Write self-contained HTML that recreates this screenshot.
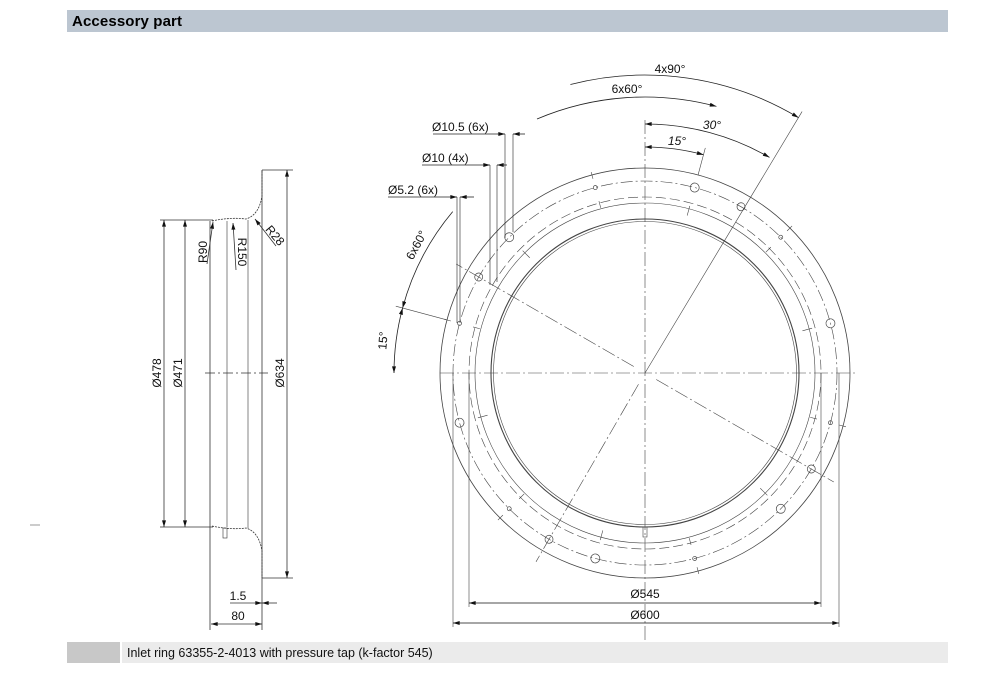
<!DOCTYPE html>
<html><head><meta charset="utf-8"><style>
body{margin:0;background:#fff;width:1000px;height:674px;overflow:hidden;font-family:"Liberation Sans",sans-serif}
svg{position:absolute;left:0;top:0}
text{font-family:"Liberation Sans",sans-serif;font-size:12px;fill:#111}
</style></head><body>
<svg width="1000" height="674" viewBox="0 0 1000 674">
<defs>
<marker id="a" viewBox="0 0 10 6" refX="10" refY="3" markerWidth="10" markerHeight="4" orient="auto-start-reverse" markerUnits="userSpaceOnUse"><path d="M0,0 L10,3 L0,6z" fill="#111"/></marker>
</defs>
<rect x="67" y="10" width="881" height="22" fill="#bcc6d1"/>
<text x="72" y="26" style="font-size:15px;font-weight:bold;fill:#000" textLength="110">Accessory part</text>
<rect x="67" y="642" width="53" height="21" fill="#c8c8c8"/>
<rect x="122" y="642" width="826" height="21" fill="#ebebeb"/>
<text x="127" y="657" style="font-size:12.5px">Inlet ring 63355-2-4013 with pressure tap (k-factor 545)</text>
<line x1="30" y1="525" x2="40" y2="525" stroke="#999"/>

<g fill="none" stroke="#333" stroke-width="0.8">
<line x1="210" y1="221" x2="210" y2="630"/>
<line x1="227" y1="221" x2="227" y2="527" stroke-width="0.6"/>
<line x1="248" y1="220" x2="248" y2="528" stroke-width="0.6"/>
<line x1="262" y1="170" x2="262" y2="630"/>
<path d="M212,221 Q230,217 246,219 Q259,215 262,196 L262,170" stroke-dasharray="2 1"/>
<path d="M212,526 Q230,530 246,528 Q259,532 262,551 L262,578" stroke-dasharray="2 1"/>
<line x1="205" y1="373" x2="268" y2="373" stroke-dasharray="10 3 2 3"/>
<line x1="160" y1="220" x2="213" y2="220"/><line x1="160" y1="527" x2="213" y2="527"/>
<line x1="262" y1="170" x2="293" y2="170"/><line x1="262" y1="578" x2="293" y2="578"/>
<line x1="164" y1="220" x2="164" y2="527" marker-start="url(#a)" marker-end="url(#a)"/>
<line x1="185" y1="220" x2="185" y2="527" marker-start="url(#a)" marker-end="url(#a)"/>
<line x1="287" y1="170" x2="287" y2="578" marker-start="url(#a)" marker-end="url(#a)"/>
<line x1="207" y1="264" x2="213" y2="222" marker-end="url(#a)"/>
<line x1="236" y1="270" x2="233" y2="223" marker-end="url(#a)"/>
<line x1="276" y1="246" x2="255" y2="219" marker-end="url(#a)"/>
<line x1="230" y1="603" x2="262" y2="603" marker-end="url(#a)"/>
<line x1="277" y1="603" x2="262" y2="603" marker-end="url(#a)"/>
<line x1="211" y1="624" x2="262" y2="624" marker-start="url(#a)" marker-end="url(#a)"/>
<rect x="223" y="528" width="4" height="10" stroke-width="0.6"/>
</g>
<text transform="translate(161,373) rotate(-90)" text-anchor="middle">Ø478</text>
<text transform="translate(182,373) rotate(-90)" text-anchor="middle">Ø471</text>
<text transform="translate(284,373) rotate(-90)" text-anchor="middle">Ø634</text>
<text transform="translate(207,252) rotate(-90)" text-anchor="middle">R90</text>
<text transform="translate(238,252) rotate(90)" text-anchor="middle">R150</text>
<text transform="translate(272,238) rotate(50)" text-anchor="middle">R28</text>
<text x="238" y="600" text-anchor="middle">1.5</text>
<text x="238" y="620" text-anchor="middle">80</text>

<g fill="none" stroke="#444" stroke-width="0.8">
<circle cx="645" cy="373" r="205"/>
<circle cx="645" cy="373" r="192" stroke-dasharray="12 3 2 3" stroke-width="0.6"/>
<circle cx="645" cy="373" r="176" stroke-dasharray="10 4" stroke-width="0.6"/>
<circle cx="645" cy="373" r="170" stroke-width="0.6"/>
<circle cx="645" cy="373" r="154" stroke-width="1.1"/>
<circle cx="645" cy="373" r="151.5" stroke-width="0.6"/>
<line x1="440" y1="373" x2="855" y2="373" stroke-dasharray="14 3 2 3" stroke-width="0.6"/>
<line x1="645" y1="120" x2="645" y2="640" stroke-dasharray="14 3 2 3" stroke-width="0.6"/>
<g stroke-dasharray="14 3 2 3" stroke-width="0.6">
<line x1="645" y1="373" x2="645" y2="68" transform="rotate(31 645 373)" stroke-dasharray="none" stroke-width="0.6"/>
<line x1="645" y1="360" x2="645" y2="155" transform="rotate(120 645 373)"/>
<line x1="645" y1="360" x2="645" y2="155" transform="rotate(210 645 373)"/>
<line x1="645" y1="360" x2="645" y2="155" transform="rotate(300 645 373)"/>
</g>
<g stroke-width="0.6">
<g transform="rotate(15 645 373)"><line x1="645" y1="168" x2="645" y2="140"/></g>
<g transform="rotate(-75 645 373)"><line x1="645" y1="168" x2="645" y2="115"/></g>
</g>
<g stroke-width="0.7">
<g transform="rotate(15 645 373)"><circle cx="645" cy="181" r="4.5"/></g>
<g transform="rotate(75 645 373)"><circle cx="645" cy="181" r="4.5"/></g>
<g transform="rotate(135 645 373)"><circle cx="645" cy="181" r="4.5"/></g>
<g transform="rotate(195 645 373)"><circle cx="645" cy="181" r="4.5"/></g>
<g transform="rotate(255 645 373)"><circle cx="645" cy="181" r="4.5"/></g>
<g transform="rotate(315 645 373)"><circle cx="645" cy="181" r="4.5"/></g>
<g transform="rotate(30 645 373)"><circle cx="645" cy="181" r="4"/></g>
<g transform="rotate(120 645 373)"><circle cx="645" cy="181" r="4"/></g>
<g transform="rotate(210 645 373)"><circle cx="645" cy="181" r="4"/></g>
<g transform="rotate(300 645 373)"><circle cx="645" cy="181" r="4"/></g>
<g transform="rotate(45 645 373)"><circle cx="645" cy="181" r="2"/></g>
<g transform="rotate(105 645 373)"><circle cx="645" cy="181" r="2"/></g>
<g transform="rotate(165 645 373)"><circle cx="645" cy="181" r="2"/></g>
<g transform="rotate(225 645 373)"><circle cx="645" cy="181" r="2"/></g>
<g transform="rotate(285 645 373)"><circle cx="645" cy="181" r="2"/></g>
<g transform="rotate(345 645 373)"><circle cx="645" cy="181" r="2"/></g>
</g>
<g stroke-width="0.6">
<g transform="rotate(-15 645 373)"><line x1="645" y1="165" x2="645" y2="172"/><line x1="645" y1="195" x2="645" y2="202"/></g>
<g transform="rotate(45 645 373)"><line x1="645" y1="165" x2="645" y2="172"/><line x1="645" y1="195" x2="645" y2="202"/></g>
<g transform="rotate(105 645 373)"><line x1="645" y1="165" x2="645" y2="172"/><line x1="645" y1="195" x2="645" y2="202"/></g>
<g transform="rotate(165 645 373)"><line x1="645" y1="165" x2="645" y2="172"/><line x1="645" y1="195" x2="645" y2="202"/></g>
<g transform="rotate(225 645 373)"><line x1="645" y1="165" x2="645" y2="172"/><line x1="645" y1="195" x2="645" y2="202"/></g>
<g transform="rotate(285 645 373)"><line x1="645" y1="165" x2="645" y2="172"/><line x1="645" y1="195" x2="645" y2="202"/></g>
<g transform="rotate(15 645 373)"><line x1="645" y1="200" x2="645" y2="210"/></g>
<g transform="rotate(75 645 373)"><line x1="645" y1="200" x2="645" y2="210"/></g>
<g transform="rotate(135 645 373)"><line x1="645" y1="200" x2="645" y2="210"/></g>
<g transform="rotate(195 645 373)"><line x1="645" y1="200" x2="645" y2="210"/></g>
<g transform="rotate(255 645 373)"><line x1="645" y1="200" x2="645" y2="210"/></g>
<g transform="rotate(315 645 373)"><line x1="645" y1="200" x2="645" y2="210"/></g>
</g>
<rect x="643" y="527" width="4" height="10" stroke-width="0.6"/>
<line x1="469" y1="373" x2="469" y2="607" stroke-width="0.6"/>
<line x1="821" y1="373" x2="821" y2="607" stroke-width="0.6"/>
<line x1="453" y1="373" x2="453" y2="627" stroke-width="0.6"/>
<line x1="839" y1="373" x2="839" y2="627" stroke-width="0.6"/>
<line x1="469" y1="603" x2="821" y2="603" marker-start="url(#a)" marker-end="url(#a)" stroke="#111"/>
<line x1="453" y1="623" x2="839" y2="623" marker-start="url(#a)" marker-end="url(#a)" stroke="#111"/>
<g stroke="#222">
<path d="M570.4,84.5 A298,298 0 0 1 798.5,117.6" marker-end="url(#a)"/>
<path d="M537,119 A276,276 0 0 1 716.4,106.4" marker-end="url(#a)"/>
<path d="M645,124 A249,249 0 0 1 769.5,157.4" marker-start="url(#a)" marker-end="url(#a)"/>
<path d="M645,147 A226,226 0 0 1 703.5,154.7" marker-start="url(#a)" marker-end="url(#a)"/>
<path d="M452.7,211.6 A251,251 0 0 0 402.6,308" marker-end="url(#a)"/>
<path d="M402.6,308 A251,251 0 0 0 394,373" marker-start="url(#a)" marker-end="url(#a)"/>
<line x1="433" y1="134" x2="497" y2="134"/>
<line x1="497" y1="134" x2="505" y2="134" marker-end="url(#a)"/>
<line x1="525" y1="134" x2="513" y2="134" marker-end="url(#a)"/>
<line x1="505" y1="134" x2="505" y2="238" stroke-width="0.6"/>
<line x1="513" y1="134" x2="513" y2="232" stroke-width="0.6"/>
<line x1="422" y1="165" x2="490" y2="165" marker-end="url(#a)"/>
<line x1="507" y1="165" x2="497" y2="165" marker-end="url(#a)"/>
<line x1="490" y1="165" x2="490" y2="285" stroke-width="0.6"/>
<line x1="497" y1="165" x2="497" y2="282" stroke-width="0.6"/>
<line x1="388" y1="197" x2="457" y2="197" marker-end="url(#a)"/>
<line x1="474" y1="197" x2="460" y2="197" marker-end="url(#a)"/>
<line x1="457" y1="197" x2="457" y2="323" stroke-width="0.6"/>
<line x1="460" y1="197" x2="460" y2="323" stroke-width="0.6"/>
</g>
</g>
<text x="670" y="73" text-anchor="middle">4x90°</text>
<text x="627" y="93" text-anchor="middle">6x60°</text>
<text x="712" y="129" text-anchor="middle" style="font-style:italic">30°</text>
<text x="677" y="145" text-anchor="middle" style="font-style:italic">15°</text>
<text x="432" y="131">Ø10.5 (6x)</text>
<text x="422" y="162">Ø10 (4x)</text>
<text x="388" y="194">Ø5.2 (6x)</text>
<text transform="translate(420,247) rotate(-62)" text-anchor="middle">6x60°</text>
<text transform="translate(387,341) rotate(-85)" text-anchor="middle">15°</text>
<text x="645" y="598" text-anchor="middle">Ø545</text>
<text x="645" y="619" text-anchor="middle">Ø600</text>
</svg>
</body></html>
